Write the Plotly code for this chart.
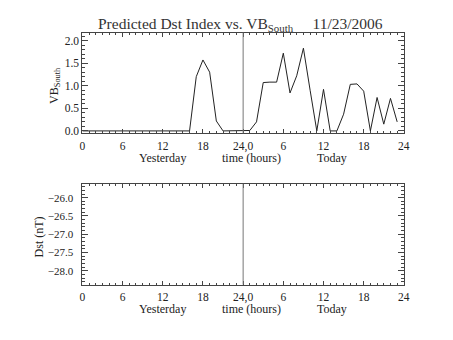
import plotly.graph_objects as go

hours = list(range(48))
vb_south = [0, 0, 0, 0, 0, 0, 0, 0, 0, 0, 0, 0, 0, 0, 0, 0,
            0, 1.2, 1.57, 1.3, 0.22, 0, 0, 0,
            0, 0.01, 0.2, 1.07, 1.08, 1.08, 1.72, 0.84, 1.22, 1.83, 0.9, 0,
            0.92, 0, 0, 0.37, 1.03, 1.04, 0.88, 0, 0.74, 0.15, 0.72, 0.2]
dst_hours = []
dst_values = []
day_boundary = 24
tick_vals = [0, 6, 12, 18, 24, 30, 36, 42, 48]
tick_text = ["0", "6", "12", "18", "24,0", "6", "12", "18", "24"]

W, H = 453, 340
FONT = "Liberation Serif"
AX = "#444444"
LINE = "#222222"

def px_x(p):
    return p / W

def px_y(p):
    return 1 - p / H

fig = go.Figure()
fig.add_trace(go.Scatter(x=hours, y=vb_south, mode="lines",
                         line=dict(color=LINE, width=1), xaxis="x", yaxis="y",
                         showlegend=False, hoverinfo="skip"))
fig.add_trace(go.Scatter(x=dst_hours, y=dst_values, mode="lines",
                         line=dict(color=LINE, width=1), xaxis="x2", yaxis="y2",
                         showlegend=False, hoverinfo="skip"))

xdom = [px_x(81), px_x(409)]
xcommon = dict(range=[0, 48], tickmode="array", tickvals=tick_vals, ticktext=tick_text,
               ticks="inside", ticklen=4, tickcolor=AX, tickwidth=1,
               showline=True, linecolor=AX, linewidth=1, mirror="ticks",
               showgrid=False, zeroline=False, ticklabelstandoff=2,
               tickfont=dict(family=FONT, size=11.5, color="#222"),
               minor=dict(dtick=1, tick0=0, ticks="inside", ticklen=2, tickcolor=AX, showgrid=False),
               domain=xdom, fixedrange=True)
ycommon = dict(ticks="inside", ticklen=6, tickcolor=AX, tickwidth=1,
               showline=True, linecolor=AX, linewidth=1, mirror="ticks",
               showgrid=False, zeroline=False,
               tickmode="linear", dtick=0.5, tickformat=".1f",
               tickfont=dict(family=FONT, size=11.5, color="#222"),
               fixedrange=True)

fig.update_layout(
    width=W, height=H,
    margin=dict(l=0, r=0, t=0, b=0),
    paper_bgcolor="white", plot_bgcolor="white",
    xaxis=dict(**xcommon, anchor="y"),
    yaxis=dict(**ycommon, range=[-0.055, 2.175], tick0=0,
               minor=dict(dtick=0.1, ticks="inside", ticklen=3, tickcolor=AX, showgrid=False),
               domain=[px_y(135), px_y(33)], anchor="x"),
    xaxis2=dict(**xcommon, anchor="y2"),
    yaxis2=dict(**ycommon, range=[-28.38, -25.62], tick0=-28, ticklabelstandoff=6,
                minor=dict(dtick=0.1, ticks="inside", ticklen=3, tickcolor=AX, showgrid=False),
                domain=[px_y(288), px_y(186)], anchor="x2"),
    showlegend=False,
)
fig.update_yaxes(tickfont=dict(size=11), selector=dict(anchor="x2"))

for yref in ["y domain", "y2 domain"]:
    xr = "x" if yref == "y domain" else "x2"
    fig.add_shape(type="line", xref=xr, yref=yref, x0=day_boundary, x1=day_boundary,
                  y0=0, y1=1, line=dict(color="#777777", width=1))

tfont = dict(family=FONT, size=15.5, color="#333")
fig.add_annotation(text="Predicted Dst Index vs. VB<sub>South</sub>     11/23/2006",
                   xref="paper", yref="paper", x=px_x(242), y=px_y(25),
                   showarrow=False, font=tfont, xanchor="center", yanchor="middle")

lfont = dict(family=FONT, size=12, color="#222")
for top in [160, 313]:
    for xh, t in [(12, "Yesterday"), (25.2, "time (hours)"), (37.2, "Today")]:
        fig.add_annotation(text=t, xref="paper", yref="paper",
                           x=px_x(81 + xh * 328 / 48), y=px_y(top),
                           showarrow=False, font=lfont, xanchor="center", yanchor="middle")

fig.add_annotation(text="VB<sub>South</sub>", xref="paper", yref="paper",
                   x=px_x(53), y=px_y(86), textangle=-90, showarrow=False,
                   font=lfont, xanchor="center", yanchor="middle")
fig.add_annotation(text="Dst (nT)", xref="paper", yref="paper",
                   x=px_x(37), y=px_y(240), textangle=-90, showarrow=False,
                   font=lfont, xanchor="center", yanchor="middle")

fig.write_html("out.html")
